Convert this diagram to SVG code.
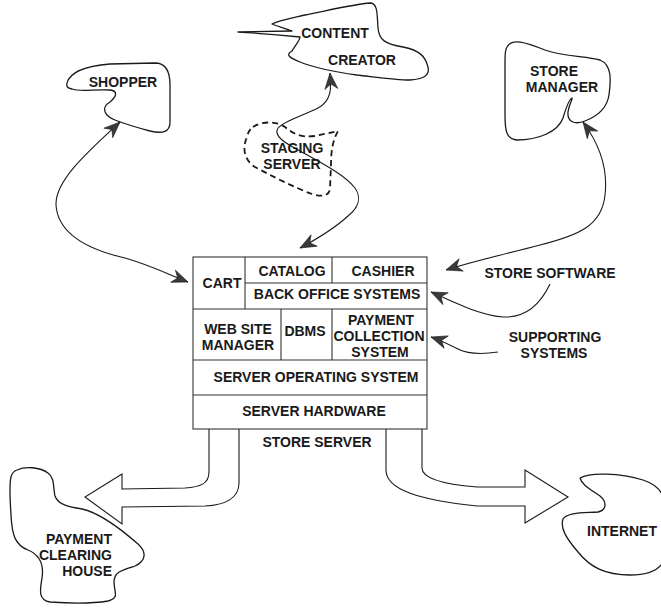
<svg xmlns="http://www.w3.org/2000/svg" width="661" height="611" viewBox="0 0 661 611">
  <style>
    .blob { fill: none; stroke: #1a1a1a; stroke-width: 1.3; stroke-linejoin: round; }
    .dash { fill: none; stroke: #1a1a1a; stroke-width: 1.8; stroke-dasharray: 6 4; }
    .cell { fill: #ffffff; stroke: #333333; stroke-width: 1.1; }
    .rule { stroke: #333333; stroke-width: 1.1; fill: none; }
    .conn { fill: none; stroke: #1a1a1a; stroke-width: 1.1; }
    .fat { fill: #ffffff; stroke: #1a1a1a; stroke-width: 1.1; stroke-linejoin: miter; }
    text { font-family: "Liberation Sans", Arial, Helvetica, sans-serif; font-weight: bold; font-size: 14px; fill: #1a1a1a; }
    .m { text-anchor: middle; }
    .e { text-anchor: end; }
  </style>
  <defs>
    <marker id="barb" viewBox="-17 -8 19 16" refX="0" refY="0" markerWidth="19" markerHeight="16" markerUnits="userSpaceOnUse" orient="auto-start-reverse">
      <path d="M0,0 L-16,-6.5 L-11,0 L-16,6.5 Z" fill="#3a3a3a" stroke="#1a1a1a" stroke-width="0.6"/>
    </marker>
  </defs>

  <!-- wide flow arrows out of the server -->
  <g id="flow-to-clearing">
    <path class="fat" d="M209,429 L209,472 C209,484 200,487 185,488 L122,489 L122,474 L85,497 L122,524 L122,507 L205,506 C225,505 239,498 239,483 L239,429"/>
  </g>
  <g id="flow-to-internet">
    <path class="fat" d="M386,429 L386,470 C386,490 420,500 477,506 L525,506 L525,523 L568,497 L525,470 L525,487 L477,487 C440,484 422,478 422,468 L422,429"/>
  </g>

  <!-- store server stack -->
  <g id="store-server">
    <rect class="cell" x="193" y="257" width="234" height="172"/>
    <line class="rule" x1="245" y1="283" x2="427" y2="283"/>
    <line class="rule" x1="193" y1="309" x2="427" y2="309"/>
    <line class="rule" x1="193" y1="360" x2="427" y2="360"/>
    <line class="rule" x1="193" y1="395" x2="427" y2="395"/>
    <line class="rule" x1="245" y1="257" x2="245" y2="309"/>
    <line class="rule" x1="332" y1="257" x2="332" y2="283"/>
    <line class="rule" x1="281" y1="309" x2="281" y2="360"/>
    <line class="rule" x1="332" y1="309" x2="332" y2="360"/>
    <text class="m" x="222" y="288">CART</text>
    <text class="m" x="292" y="276">CATALOG</text>
    <text class="m" x="383" y="276">CASHIER</text>
    <text class="m" x="337" y="299">BACK OFFICE SYSTEMS</text>
    <text class="m" x="238" y="334">WEB SITE</text>
    <text class="m" x="238" y="350">MANAGER</text>
    <text class="m" x="305" y="336">DBMS</text>
    <text class="m" x="381" y="325">PAYMENT</text>
    <text class="m" x="379" y="341">COLLECTION</text>
    <text class="m" x="380" y="357">SYSTEM</text>
    <text class="m" x="316" y="382">SERVER OPERATING SYSTEM</text>
    <text class="m" x="314" y="416">SERVER HARDWARE</text>
    <text class="m" x="317" y="447">STORE SERVER</text>
  </g>

  <g id="shopper">
    <path class="blob" d="M67,83 C70,72 85,66 110,64 L155,63 C165,63 170,70 170,85 L170,122 C170,132 163,134 150,131 C135,127 125,124 115,120 C105,116 100,108 110,102 C117,96 118,91 110,90 C95,89 80,92 72,89 C67,88 66,86 67,83 Z"/>
    <text class="m" x="123" y="87">SHOPPER</text>
  </g>

  <g id="content-creator">
    <path class="blob" d="M238,32 L292,31 C285,28 276,26 272,24 C280,20 292,18 305,15 C330,10 355,4 370,3 C378,3 377,15 378,28 C379,40 385,44 403,47 C418,50 425,55 428,67 C430,76 423,79 410,80 C395,80 375,77 357,75 C335,72 315,68 300,62 C290,58 285,55 292,51 C295,46 300,40 300,37 C280,35 255,33 238,32 Z"/>
    <text class="m" x="335" y="38">CONTENT</text>
    <text class="m" x="362" y="65">CREATOR</text>
  </g>

  <g id="staging-server">
    <path class="dash" d="M253,127 C260,122 275,120 285,127 C292,133 300,138 315,136 L338,131 C333,140 331,150 331,165 L330,188 C330,196 322,197 312,194 C295,188 270,175 255,167 C244,160 242,148 247,137 C248,132 250,129 253,127 Z"/>
    <text class="m" x="292" y="153">STAGING</text>
    <text class="m" x="292" y="169">SERVER</text>
  </g>

  <g id="store-manager">
    <path class="blob" d="M507,47 C512,38 525,42 545,50 C565,57 585,56 600,60 C612,65 611,80 609,95 C607,108 598,116 585,121 C575,125 567,122 568,112 C569,104 573,99 572,98 C569,99 566,108 563,118 C558,132 538,140 517,140 C506,139 505,130 505,115 L505,60 C505,53 505,50 507,47 Z"/>
    <text class="m" x="554" y="76">STORE</text>
    <text class="m" x="562" y="92">MANAGER</text>
  </g>

  <g id="payment-clearing-house">
    <path class="blob" d="M17,470 C25,466 40,467 48,473 C55,478 53,488 55,496 C58,505 70,507 82,509 C100,513 122,530 138,544 C147,552 146,561 135,566 C122,570 114,572 114,582 C114,592 120,598 108,601 C90,604 65,603 50,602 C38,600 40,590 42,578 C44,565 40,555 28,550 C15,545 12,535 11,515 C10,500 9,485 11,477 C12,473 14,471 17,470 Z"/>
    <text class="e" x="112" y="544">PAYMENT</text>
    <text class="e" x="112" y="560">CLEARING</text>
    <text class="e" x="112" y="576">HOUSE</text>
  </g>

  <g id="internet">
    <path class="blob" d="M580,478 C590,472 620,473 643,480 C655,484 662,490 664,500 L664,560 C660,570 650,575 630,575 C605,575 590,567 578,552 C566,538 560,528 563,519 C567,512 585,513 598,512 C607,510 607,502 600,496 C590,489 582,485 580,478 Z"/>
    <text class="m" x="622" y="536">INTERNET</text>
  </g>

  <g id="store-software">
    <text class="m" x="550" y="278">STORE SOFTWARE</text>
  </g>
  <g id="supporting-systems">
    <text class="m" x="555" y="342">SUPPORTING</text>
    <text class="m" x="554" y="358">SYSTEMS</text>
  </g>

  <g id="connectors">
    <path class="conn" marker-start="url(#barb)" marker-end="url(#barb)" d="M120,122 C90,150 55,180 56,205 C58,235 90,250 125,258 C150,265 170,275 188,282"/>
    <path class="conn" marker-start="url(#barb)" marker-end="url(#barb)" d="M330,73 C331,85 333,100 318,108 C305,115 285,120 278,128 C273,136 285,143 300,151 C320,162 345,175 355,188 C362,198 358,208 348,216 C335,228 315,240 300,248"/>
    <path class="conn" marker-start="url(#barb)" marker-end="url(#barb)" d="M583,122 C600,145 608,170 605,195 C602,225 580,235 540,245 C510,253 470,262 446,270"/>
    <path class="conn" marker-end="url(#barb)" d="M550,284 C540,305 525,318 503,317 C480,315 455,303 431,292"/>
    <path class="conn" marker-end="url(#barb)" d="M498,352 C485,354 470,355 458,349 C448,344 440,340 431,337"/>
  </g>
</svg>
